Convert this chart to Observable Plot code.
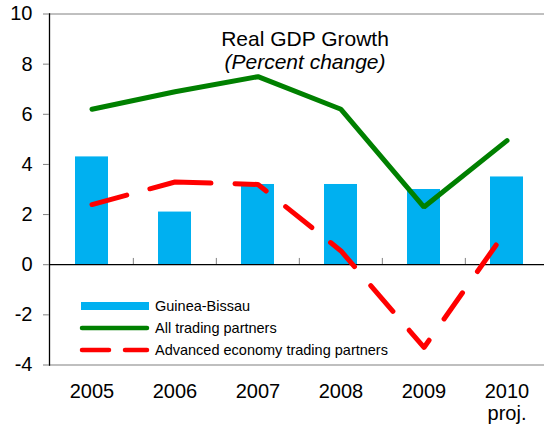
<!DOCTYPE html>
<html>
<head>
<meta charset="utf-8">
<script src="https://cdn.jsdelivr.net/npm/d3@7"></script>
<script src="https://cdn.jsdelivr.net/npm/@observablehq/plot@0.6"></script>
<style>
  body { margin: 0; background: #fff; font-family: "Liberation Sans", Arial, sans-serif; }
  #wrap { position: relative; width: 544px; height: 430px; overflow: hidden; }
  #title { position: absolute; left: 205px; width: 200px; top: 27px; text-align: center; font-size: 21px; line-height: 23px; color: #000; }
  #legend { position: absolute; left: 78px; top: 295px; font-size: 14.5px; color: #000; }
  .row { display: flex; align-items: center; height: 22px; }
  .row svg { margin-right: 5px; }
</style>
</head>
<body>
<div id="wrap">
  <div id="chart"></div>
  <div id="title">Real GDP Growth<br><i>(Percent change)</i></div>
  <div id="legend"></div>
</div>
<script>
const years = ["2005", "2006", "2007", "2008", "2009", "2010"];
const yearLabels = ["2005", "2006", "2007", "2008", "2009", "2010\nproj."];
const guineaBissau = [4.3, 2.1, 3.2, 3.2, 3.0, 3.5];
const allPartners = [6.2, 6.9, 7.5, 6.2, 2.3, 4.95];
const advancedPartners = [2.4, 3.3, 3.2, 0.55, -3.3, 1.4];
const yTicks = [-4, -2, 0, 2, 4, 6, 8, 10];
const seriesNames = ["Guinea-Bissau", "All trading partners", "Advanced economy trading partners"];
const colors = ["#00B0F0", "#008000", "#FF0000"];

const bars = years.map((y, i) => ({year: y, value: guineaBissau[i]}));
const green = years.map((y, i) => ({year: y, value: allPartners[i]}));
const red = years.map((y, i) => ({year: y, value: advancedPartners[i]}));

const left = 49, right = 549;
const step = (right - left) / years.length;
const redDash = "36,24,62,24,33.5,25,33.5,24,34,25,34,25,31.5,26,32,26,32.5,40";

const chart = Plot.plot({
  width: 544,
  height: 430,
  marginTop: 13.5,
  marginBottom: 65.5,
  marginLeft: left,
  marginRight: 0,
  style: {fontFamily: "'Liberation Sans', Arial, sans-serif", background: "#fff"},
  x: {domain: years, range: [left, right], paddingInner: 0.6, paddingOuter: 0.3, align: 0.5, label: null},
  y: {domain: [-4, 10], label: null},
  marks: [
    Plot.barY(bars, {x: "year", y: "value", fill: colors[0]}),
    Plot.frame({anchor: "top", stroke: "#808080", strokeWidth: 1}),
    Plot.frame({anchor: "bottom", stroke: "#808080", strokeWidth: 1.2}),
    Plot.ruleX(years.slice(1), {x: d => d, y1: 0, y2: 0.25, dx: -step / 2, stroke: "#808080", strokeWidth: 1}),
    Plot.ruleY([0], {stroke: "#000", strokeWidth: 1.3}),
    Plot.frame({anchor: "left", stroke: "#000", strokeWidth: 1.3}),
    Plot.line(green, {x: "year", y: "value", stroke: colors[1], strokeWidth: 5, strokeLinejoin: "miter", strokeLinecap: "round"}),
    Plot.line(red, {x: "year", y: "value", stroke: colors[2], strokeWidth: 5, strokeDasharray: redDash, strokeLinecap: "round", strokeLinejoin: "round"}),
    Plot.axisY(yTicks, {tickSize: 6, tickPadding: 11, fontSize: 20, stroke: "#808080", fill: "#000", label: null, tickFormat: d => String(d)}),
    Plot.axisX({tickSize: 0, tickPadding: 17, fontSize: 20, fill: "#000", lineHeight: 1.1, label: null, tickFormat: d => yearLabels[years.indexOf(d)]})
  ]
});
chart.querySelectorAll("text").forEach(t => t.setAttribute("fill", "#000"));
document.getElementById("chart").appendChild(chart);

const legend = document.getElementById("legend");
seriesNames.forEach((name, i) => {
  const row = document.createElement("div");
  row.className = "row";
  let sw;
  if (i === 0) sw = `<svg width="72" height="12"><rect x="3" y="2" width="68" height="8" fill="${colors[0]}"/></svg>`;
  else if (i === 1) sw = `<svg width="72" height="12"><line x1="4" x2="69" y1="6" y2="6" stroke="${colors[1]}" stroke-width="4.5" stroke-linecap="round"/></svg>`;
  else sw = `<svg width="72" height="12"><line x1="4" x2="31" y1="6" y2="6" stroke="${colors[2]}" stroke-width="4.5" stroke-linecap="round"/><line x1="47" x2="69" y1="6" y2="6" stroke="${colors[2]}" stroke-width="4.5" stroke-linecap="round"/></svg>`;
  row.innerHTML = sw + `<span>${name}</span>`;
  legend.appendChild(row);
});
</script>
</body>
</html>
